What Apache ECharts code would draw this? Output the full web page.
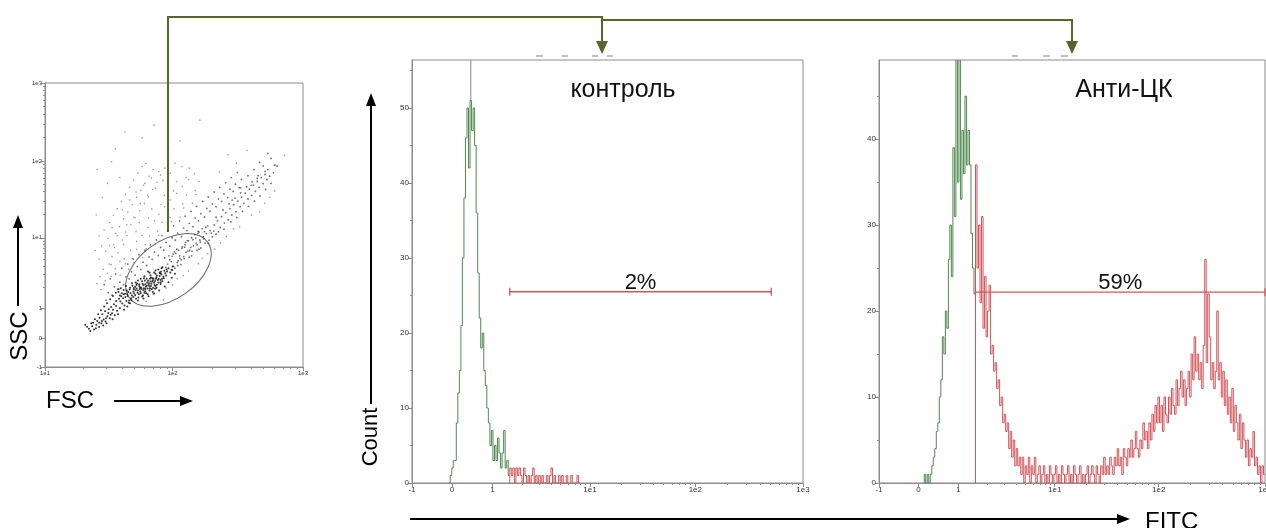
<!DOCTYPE html>
<html>
<head>
<meta charset="utf-8">
<title>FITC</title>
<script src="https://cdn.jsdelivr.net/npm/echarts@6/dist/echarts.min.js"></script>
<style>
html, body { margin: 0; padding: 0; background: #fff; overflow: hidden; }
#main { width: 1266px; height: 528px; }
</style>
</head>
<body>
<div id="main"></div>
<script>
// biexponential display scale, channels 0..1024
var decadeTicks = [0, 105, 211, 466, 742, 1024];
var decadeLabels = ['-1', '0', '1', '1e1', '1e2', '1e3'];

var binWidth = 4;

// контроль: counts per bin, bins start at channel 96
var ctrlStart = 96;
var ctrlCounts = [0, 1, 2, 3, 3, 8, 12, 15, 21, 30, 38, 46, 50, 42, 51, 47, 50, 45, 36, 28, 22, 18, 20, 15, 13,
  10, 8, 5, 7, 3, 5, 3, 6, 4, 2, 4, 7, 2, 3, 1,
  2, 1, 2, 0, 2, 1, 2, 1, 0, 2, 1, 0, 1, 0, 1, 2, 0, 1, 0, 1, 0, 1, 0, 0, 1, 0, 1, 2, 0, 1,
  0, 0, 1, 0, 1, 0, 0, 1, 0, 0, 1, 0, 0, 0, 1, 0];
var ctrlGate = [256, 941, 25.5];
var ctrlGateLabel = '2%';
var ctrlMax = 56.4;

// Анти-ЦК: bins start at channel 120
var antiStart = 120;
var antiCounts = [1, 0, 1, 0, 1, 2, 3, 4, 6, 7, 10, 12, 17, 15, 20, 18, 26, 30, 24, 39, 31, 60, 35, 60, 33,
  41, 36, 45, 37, 41, 37, 29, 25, 22,
  37, 25, 30, 21, 31, 18, 24, 17, 20, 23, 15, 16, 13, 14, 11, 12, 9, 10, 7, 8, 6, 7, 4, 6, 3, 5,
  2, 4, 2, 3, 1, 3, 0, 2, 1, 3, 0, 2, 1, 3, 0, 1, 2, 0, 1, 2, 0, 1, 0, 2, 1, 0, 1, 2, 0, 1,
  0, 2, 1, 0, 1, 2, 0, 1, 0, 2, 1, 0, 1, 2, 0, 1, 0, 1, 2, 0, 1, 2, 1, 0, 2, 1, 0, 2, 1, 3,
  1, 2, 1, 3, 2, 1, 3, 2, 4, 2, 3, 1, 4, 3, 2, 4, 3, 5, 3, 4, 6, 4, 3, 5, 4, 7, 5, 6, 4, 7,
  5, 8, 6, 9, 7, 10, 7, 9, 6, 10, 8, 7, 10, 8, 11, 9, 8, 12, 9, 11, 13, 10, 12, 9, 11, 13,
  10, 15, 12, 17, 13, 15, 12, 14, 11, 16, 26, 14, 22, 17, 12, 14, 11, 13, 20, 12, 14, 10, 13, 9,
  12, 8, 10, 7, 11, 6, 9, 7, 5, 8, 4, 7, 5, 3, 5, 2, 4, 3, 6, 2, 3, 1, 2, 0, 2, 1];
var antiGate = [256, 1024, 22.2];
var antiGateLabel = '59%';
var antiMax = 49.2;

// FSC / SSC events, in channels: dense core, main band, diffuse cloud
var coreCells = [
  [652,248],[661,259],[644,262],[668,251],[657,271],[673,266],[649,279],[664,283],[679,277],[688,262],
  [655,293],[670,298],[684,289],[697,281],[676,309],[691,302],[703,296],[662,305],[686,318],[699,313],
  [711,305],[681,327],[694,331],[707,324],[719,318],[702,341],[715,337],[728,330],[689,344],[711,352],
  [724,347],[737,341],[720,360],[733,356],[646,270],[659,265],[671,287],[683,273],[695,292],[707,286],
  [667,276],[679,295],[692,276],[704,310],[716,299],[673,318],[698,321],[722,326],[741,350],[712,318],
  [654,258],[666,268],[678,258],[690,296],[702,304],[714,328],[726,338],[688,283],[699,270],[661,289],
  [675,281],[687,305],[696,300],[708,297],[720,309],[683,298],[693,318],[705,336],[717,343],[729,352],
  [640,252],[648,240],[663,246],[676,254],[658,280],[670,292],[682,312],[694,308],[706,318],[718,334],
  [730,344],[742,362],[700,286],[685,266],[672,272],[664,296],[680,284],[692,290],[704,282],[716,314],
  [645,256],[651,266],[657,252],[662,277],[669,262],[674,287],[681,268],[686,293],[693,283],[698,308],
  [705,292],[710,314],[716,305],[723,320],[658,285],[665,301],[671,281],[677,300],[683,281],[689,311],
  [695,323],[701,318],[708,330],[714,341],[650,286],[643,276],[639,264],[636,278],[632,266],[628,258],
  [625,270],[630,284],[641,292],[654,302],[667,312],[680,320],[692,340],[705,348],[718,356],[653,241],
  [667,240],[679,247],[690,255],[702,265],[713,276],[725,290],[733,306],[740,322],[747,336],
  [561,138],[568,147],[572,135],[577,152],[583,144],[566,158],[579,166],[588,158],[593,171],[584,178],
  [597,164],[601,183],[590,190],[606,176],[611,194],[596,201],[604,208],[617,187],[622,203],[609,216],
  [615,226],[628,212],[633,229],[620,238],[626,246],[638,222],[642,238],[631,255],[636,262],[647,232],
  [574,172],[581,190],[587,205],[594,218],[600,230],[607,244],[613,256],[619,268],[625,280],[603,195],
  [613,206],[620,220],[629,236],[635,248],[608,188],[598,176],[589,166],[583,160],[570,160],[557,145],
  [564,130],[576,140],[592,150],[599,158],[612,172],[624,190],[637,206],[644,218],[650,230],[553,152]
];
var bandCells = [
  [731,371],[744,363],[736,387],[752,377],[741,399],[758,392],[749,409],[766,398],[755,421],[771,414],
  [763,433],[779,420],[769,441],[787,437],[776,455],[793,447],[783,466],[801,458],[790,477],[808,470],
  [797,489],[815,481],[806,499],[823,492],[727,359],[739,351],[753,366],[761,386],[778,396],[784,417],
  [799,425],[812,447],[821,457],[836,479],[725,393],[743,407],[751,425],[768,432],[774,456],[792,465],
  [799,487],[814,503],[747,356],[760,369],[767,391],[783,401],[795,421],[803,429],[819,446],[828,469],
  [734,401],[746,415],[762,428],[770,449],[786,459],[797,482],[811,488],[818,509],[754,383],[775,418],
  [802,451],[826,483],[739,380],[757,401],[781,431],[795,440],[809,462],[831,490],
  [832,512],[845,503],[839,527],[854,519],[848,542],[862,531],[857,556],[870,548],[866,571],[879,560],
  [874,585],[888,578],[883,598],[896,590],[891,612],[905,606],[899,627],[913,619],[908,641],[921,633],
  [917,656],[929,648],[925,669],[938,661],[934,683],[946,676],[942,694],[952,688],[841,488],[853,497],
  [868,523],[881,539],[893,561],[906,579],[919,598],[931,617],[943,640],[955,662],[836,540],[851,566],
  [864,589],[877,609],[889,628],[902,650],[914,668],[927,690],[960,700],[948,712],[968,724],[889,646],
  [871,602],[905,690],[918,712],[930,738],[942,705],[955,752],[962,728],[948,770],[925,680],[912,655],
  [938,725],
  [598,241],[603,268],[594,297],[611,259],[616,289],[607,318],[623,281],[628,306],[619,335],
  [636,297],[641,325],[632,356],[648,318],[653,343],[645,371],[661,331],[666,362],[657,389],
  [673,352],[678,378],[669,405],[686,366],[691,397],[682,421],[698,388],[703,414],[694,440],
  [711,402],[716,431],[707,458],[723,421],[728,449],[719,474],[736,436],[741,466],[732,492],
  [748,457],[753,483],[744,509],[761,470],[766,501],[757,527],[773,492],[778,518],[769,544],
  [786,506],[791,537],[782,561],[798,527],[803,553],[794,579],[811,541],[816,572],[807,597],
  [823,562],[828,588],[819,613],[836,578],[841,606],[832,631],[848,597],[853,624],[844,648],
  [861,611],[866,641],[857,664],[873,633],[878,659],[869,683],[886,647],[891,676],[882,701]
];
var cloudCells = [
  [592,352],[605,371],[583,389],[611,398],[597,417],[624,412],[588,436],[615,441],[602,463],[633,458],
  [619,482],[594,494],[641,487],[627,506],[606,521],[652,513],[636,534],[614,547],[661,538],[645,559],
  [622,571],[671,563],[655,585],[631,597],[681,589],[664,612],[640,623],[690,614],[673,637],[649,648],
  [699,640],[682,662],[658,673],[708,666],[691,688],[667,699],[716,692],[700,712],[676,723],[725,717],
  [640,372],[655,391],[664,424],[683,441],[692,473],[710,490],[719,522],[737,539],[745,571],[764,588],
  [772,620],[791,636],[799,669],[647,352],[658,377],[677,394],[685,426],[704,443],[712,475],[731,492],
  [739,524],[758,541],[766,573],[785,590],[793,622],[585,326],[601,338],[609,369],[628,381],[616,431],
  [636,442],[643,474],[663,488],[670,521],[690,537],[697,570],[717,586],[724,619],[744,635],[751,668],
  [771,684],[778,717],[578,301],[587,279],[596,312],[609,327],[618,354],[629,331],[637,390],[651,421],
  [664,453],[676,474],[689,503],[703,527],[712,551],[725,578],[737,602],[751,626],[763,651],[777,675],
  [789,697],[606,437],[622,473],[611,502],[643,513],[634,566],[658,540],[649,602],[672,589],[663,631],
  [688,618],[679,655],[705,645],[696,681],[721,673],[712,705],[737,699],[747,735],[762,722],[684,734],
  [628,683],[601,662],[590,611],[577,548],[583,473],[575,420],
  [700,262],[728,285],[752,318],[776,346],[806,392],[833,425],[858,470],[887,505],[912,548],[941,590],
  [963,635],[722,242],[765,330],[798,372],[874,498],[846,448],[930,560],[952,612],[685,236],[742,296],
  [818,408],
  [801,890],[639,847],[702,872],[758,815],[862,765],[903,781],[843,702],[965,728],[984,763],[579,712],
  [618,786],[610,740],[733,790],[676,826],[880,735]
];

// elliptical gate on FSC/SSC
var gateCenter = [733, 350];

var lineColor = '#8c8c8c';
var greenColor = '#4f8a4f';
var redColor = '#d2555a';
var arrowColor = '#55682c';
var font = "Arial, 'Liberation Sans', sans-serif";

function logMinor(from, to) {
  var out = [];
  for (var k = 2; k <= 9; k++) out.push(from + (to - from) * Math.log10(k));
  return out;
}
var histMinor = logMinor(211, 466).concat(logMinor(466, 742), logMinor(742, 1024));

// bins as [channel, count, previous count]; the red part rises from 0 at the gate
function splitHist(start, counts, gateStart) {
  var green = [], red = [];
  for (var i = 0; i < counts.length; i++) {
    var ch = start + i * binWidth;
    var prev = i > 0 ? counts[i - 1] : 0;
    if (ch < gateStart) {
      green.push([ch, counts[i], prev]);
    } else {
      red.push([ch, counts[i], red.length ? prev : 0]);
    }
  }
  return { green: green, red: red };
}

var ctrl = splitHist(ctrlStart, ctrlCounts, ctrlGate[0]);
var anti = splitHist(antiStart, antiCounts, antiGate[0]);

function peakOf(start, counts) {
  var best = 0;
  for (var i = 1; i < counts.length; i++) if (counts[i] > counts[best]) best = i;
  return [start + best * binWidth + binWidth / 2, counts[best]];
}
var ctrlPeak = peakOf(ctrlStart, ctrlCounts);

function mainAxis(grid, min, max, ticks, labels, size) {
  return {
    type: 'value', gridIndex: grid, min: min, max: max,
    axisLine: { show: true, onZero: false, lineStyle: { color: lineColor } },
    axisTick: { show: true, customValues: ticks, length: 4, lineStyle: { color: lineColor } },
    axisLabel: {
      customValues: ticks, fontSize: size, color: '#333', fontFamily: font, margin: 3,
      formatter: function (v) { return labels[ticks.indexOf(v)]; }
    },
    splitLine: { show: false }
  };
}
function minorAxis(grid, min, max, ticks, pos) {
  return {
    type: 'value', gridIndex: grid, min: min, max: max, position: pos,
    axisLine: { show: false, onZero: false },
    axisTick: { show: true, customValues: ticks, length: 2, lineStyle: { color: lineColor } },
    axisLabel: { show: false }, splitLine: { show: false }
  };
}
function countTicks(max, step) {
  var t = [];
  for (var v = 0; v <= max; v += step) t.push(v);
  return t;
}

var ctrlYTicks = countTicks(ctrlMax, 10);
var antiYTicks = countTicks(antiMax, 10);
var ctrlYMinor = countTicks(ctrlMax, 5);
var antiYMinor = countTicks(antiMax, 5);

function gateSeries(xi, yi, gate, label) {
  return {
    type: 'custom', xAxisIndex: xi, yAxisIndex: yi, silent: true, clip: false,
    encode: { x: [0, 1], y: 2 },
    data: [gate],
    renderItem: function (params, api) {
      var a = api.coord([api.value(0), api.value(2)]);
      var b = api.coord([api.value(1), api.value(2)]);
      var st = { stroke: redColor, lineWidth: 1.3 };
      return {
        type: 'group', children: [
          { type: 'line', shape: { x1: a[0], y1: a[1], x2: b[0], y2: b[1] }, style: st },
          { type: 'line', shape: { x1: a[0], y1: a[1] - 4, x2: a[0], y2: a[1] + 4 }, style: st },
          { type: 'line', shape: { x1: b[0], y1: b[1] - 4, x2: b[0], y2: b[1] + 4 }, style: st },
          { type: 'text', style: { x: (a[0] + b[0]) / 2, y: a[1] + 2, text: label, fill: '#111',
            font: '22px ' + font, align: 'center', verticalAlign: 'bottom' } }
        ]
      };
    }
  };
}

// histogram outline: each bin draws its rise from the previous bin and its flat top
function histSeries(xi, yi, bins, color) {
  return {
    type: 'custom', xAxisIndex: xi, yAxisIndex: yi, silent: true, clip: true,
    data: bins,
    renderItem: function (params, api) {
      var x0 = api.value(0), c = api.value(1), p = api.value(2);
      var a = api.coord([x0, p]);
      var b = api.coord([x0, c]);
      var e = api.coord([x0 + binWidth, c]);
      return {
        type: 'polyline', shape: { points: [a, b, e] },
        style: { stroke: color, lineWidth: 1, fill: null }
      };
    }
  };
}

function cellSeries(data, color, size, opacity) {
  return {
    type: 'scatter', xAxisIndex: 0, yAxisIndex: 0, data: data, symbolSize: size, silent: true,
    itemStyle: { color: color, opacity: opacity }
  };
}

var gridBase = { show: true, borderColor: lineColor, borderWidth: 1, outerBoundsMode: 'none', containLabel: false };

var chart = echarts.init(document.getElementById('main'));
chart.setOption({
  animation: false,
  backgroundColor: '#fff',
  grid: [
    Object.assign({ left: 45, top: 83, width: 258, height: 284 }, gridBase),
    Object.assign({ left: 412, top: 60, width: 391, height: 423 }, gridBase),
    Object.assign({ left: 879, top: 60, width: 386, height: 423 }, gridBase)
  ],
  xAxis: [
    mainAxis(0, 466, 1024, [466, 742, 1024], ['1e1', '1e2', '1e3'], 6),
    minorAxis(0, 466, 1024, logMinor(466, 742).concat(logMinor(742, 1024)), 'bottom'),
    mainAxis(1, 0, 1024, decadeTicks, decadeLabels, 8),
    minorAxis(1, 0, 1024, histMinor, 'bottom'),
    mainAxis(2, 0, 1024, decadeTicks, decadeLabels, 8),
    minorAxis(2, 0, 1024, histMinor, 'bottom')
  ],
  yAxis: [
    mainAxis(0, 0, 1024, decadeTicks, decadeLabels, 6),
    minorAxis(0, 0, 1024, histMinor, 'left'),
    mainAxis(1, 0, ctrlMax, ctrlYTicks, ctrlYTicks.map(String), 8),
    minorAxis(1, 0, ctrlMax, ctrlYMinor, 'left'),
    mainAxis(2, 0, antiMax, antiYTicks, antiYTicks.map(String), 8),
    minorAxis(2, 0, antiMax, antiYMinor, 'left')
  ],
  series: [
    cellSeries(cloudCells, '#555', 1.6, 0.6),
    cellSeries(bandCells, '#333', 1.8, 0.7),
    cellSeries(coreCells, '#111', 2, 0.85),
    {
      type: 'custom', xAxisIndex: 0, yAxisIndex: 0, silent: true, data: [gateCenter],
      renderItem: function (params, api) {
        var c = api.coord([api.value(0), api.value(1)]);
        return {
          type: 'ellipse', x: c[0], y: c[1], rotation: 35 * Math.PI / 180,
          shape: { cx: 0, cy: 0, rx: 48, ry: 29 },
          style: { fill: null, stroke: '#666', lineWidth: 1 }
        };
      }
    },
    {
      // peak marker above the control histogram
      type: 'custom', xAxisIndex: 2, yAxisIndex: 2, silent: true, data: [ctrlPeak],
      renderItem: function (params, api) {
        var p = api.coord([api.value(0), api.value(1)]);
        return {
          type: 'line', shape: { x1: p[0], y1: p[1], x2: p[0], y2: params.coordSys.y },
          style: { stroke: '#888', lineWidth: 1 }
        };
      }
    },
    histSeries(2, 2, ctrl.green, greenColor),
    histSeries(2, 2, ctrl.red, redColor),
    histSeries(4, 4, anti.green, greenColor),
    histSeries(4, 4, anti.red, redColor),
    gateSeries(2, 2, ctrlGate, ctrlGateLabel),
    gateSeries(4, 4, antiGate, antiGateLabel)
  ],
  graphic: [
    // connector from gate to histograms
    { type: 'polyline', shape: { points: [[168, 232], [168, 17], [602, 17], [602, 44]] },
      style: { stroke: arrowColor, lineWidth: 2, fill: null } },
    { type: 'polyline', shape: { points: [[602, 20], [1072, 20], [1072, 44]] },
      style: { stroke: arrowColor, lineWidth: 2, fill: null } },
    { type: 'polygon', shape: { points: [[596, 41], [608, 41], [602, 54]] }, style: { fill: arrowColor } },
    { type: 'polygon', shape: { points: [[1066, 41], [1078, 41], [1072, 54]] }, style: { fill: arrowColor } },
    // small marks above histograms
    { type: 'line', shape: { x1: 536, y1: 56, x2: 543, y2: 56 }, style: { stroke: '#aaa', lineWidth: 1.5 } },
    { type: 'line', shape: { x1: 562, y1: 56, x2: 568, y2: 56 }, style: { stroke: '#aaa', lineWidth: 1.5 } },
    { type: 'line', shape: { x1: 592, y1: 56, x2: 598, y2: 56 }, style: { stroke: '#aaa', lineWidth: 1.5 } },
    { type: 'line', shape: { x1: 607, y1: 56, x2: 613, y2: 56 }, style: { stroke: '#aaa', lineWidth: 1.5 } },
    { type: 'line', shape: { x1: 1012, y1: 56, x2: 1018, y2: 56 }, style: { stroke: '#aaa', lineWidth: 1.5 } },
    { type: 'line', shape: { x1: 1043, y1: 56, x2: 1050, y2: 56 }, style: { stroke: '#aaa', lineWidth: 1.5 } },
    { type: 'line', shape: { x1: 1061, y1: 56, x2: 1068, y2: 56 }, style: { stroke: '#aaa', lineWidth: 1.5 } },
    // titles
    { type: 'text', x: 623, y: 90, style: { text: 'контроль', font: '25px ' + font, fill: '#111',
      align: 'center', verticalAlign: 'middle' } },
    { type: 'text', x: 1124, y: 90, style: { text: 'Анти-ЦК', font: '25px ' + font, fill: '#111',
      align: 'center', verticalAlign: 'middle' } },
    // SSC
    { type: 'line', shape: { x1: 18, y1: 306, x2: 18, y2: 226 }, style: { stroke: '#000', lineWidth: 2 } },
    { type: 'polygon', shape: { points: [[13, 228], [23, 228], [18, 215]] }, style: { fill: '#000' } },
    { type: 'text', x: 20, y: 336, rotation: Math.PI / 2, style: { text: 'SSC', font: '24px ' + font,
      fill: '#000', align: 'center', verticalAlign: 'middle' } },
    // FSC
    { type: 'text', x: 46, y: 401, style: { text: 'FSC', font: '24px ' + font, fill: '#000',
      align: 'left', verticalAlign: 'middle' } },
    { type: 'line', shape: { x1: 114, y1: 401, x2: 182, y2: 401 }, style: { stroke: '#000', lineWidth: 2 } },
    { type: 'polygon', shape: { points: [[180, 396], [180, 406], [193, 401]] }, style: { fill: '#000' } },
    // Count
    { type: 'line', shape: { x1: 371, y1: 404, x2: 371, y2: 104 }, style: { stroke: '#000', lineWidth: 2 } },
    { type: 'polygon', shape: { points: [[366, 106], [376, 106], [371, 93]] }, style: { fill: '#000' } },
    { type: 'text', x: 371, y: 437, rotation: Math.PI / 2, style: { text: 'Count', font: '22px ' + font,
      fill: '#000', align: 'center', verticalAlign: 'middle' } },
    // FITC
    { type: 'line', shape: { x1: 410, y1: 519, x2: 1120, y2: 519 }, style: { stroke: '#000', lineWidth: 2 } },
    { type: 'polygon', shape: { points: [[1117, 514], [1117, 524], [1130, 519]] }, style: { fill: '#000' } },
    { type: 'text', x: 1145, y: 510, style: { text: 'FITC', font: '24px ' + font, fill: '#000',
      align: 'left', verticalAlign: 'top' } }
  ]
});
</script>
</body>
</html>
